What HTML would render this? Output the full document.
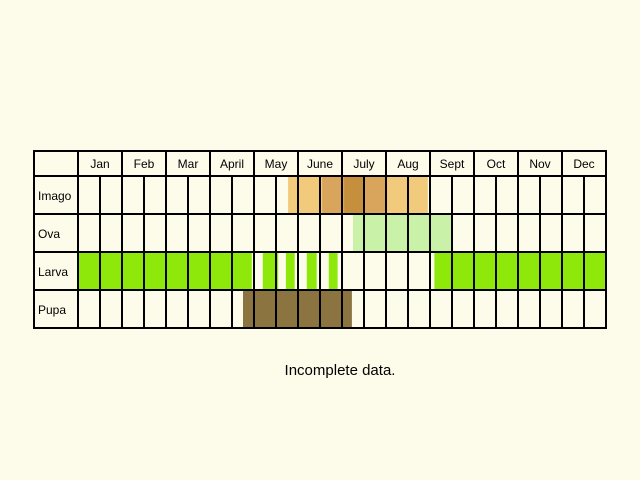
<!DOCTYPE html>
<html><head><meta charset="utf-8"><style>
body{margin:0;background:#fdfbe9;}
svg{display:block;font-family:"Liberation Sans",sans-serif;}
</style></head><body>
<svg id="c" width="640" height="480">
<rect width="640" height="480" fill="#fdfbe9"/>
<g id="marks"></g><g id="grid"></g>
<text x="340" y="375" font-size="15" text-anchor="middle" fill="#000">Incomplete data.</text>
</svg>
<script>
const months=["Jan","Feb","Mar","April","May","June","July","Aug","Sept","Oct","Nov","Dec"];
const stages=["Imago","Ova","Larva","Pupa"];
// spans in half-month units [stageIndex, start, end, color]
const imagoSpans=[[0,9.55,15.9,"#f2ca7c"],[0,11.1,14.05,"#d9a55c"],[0,12.1,12.95,"#c68f3e"]];
const ovaSpans=[[1,12.5,16.95,"#c9f1a8"]];
const larvaSpans=[[2,0,7.9,"#8ee80a"],[2,8.4,9.1,"#8ee80a"],[2,9.45,9.85,"#8ee80a"],[2,10.4,10.85,"#8ee80a"],[2,11.4,11.8,"#8ee80a"],[2,16.2,24,"#8ee80a"]];
const pupaSpans=[[3,7.5,12.45,"#8c7441"]];
const X0=78,CW=22,LX=34,TOP=151,HH=25,RH=38;
const xs=h=>X0+h*CW, ys=r=>TOP+HH+r*RH;
const NS="http://www.w3.org/2000/svg";
const mk=document.getElementById('marks'), gr=document.getElementById('grid');
function el(t,a,p){const e=document.createElementNS(NS,t);for(const k in a)e.setAttribute(k,a[k]);p.appendChild(e);return e;}
[imagoSpans,ovaSpans,larvaSpans,pupaSpans].forEach(arr=>arr.forEach(s=>{
 const r=el('rect',{x:xs(s[1]),y:ys(s[0]),width:xs(s[2])-xs(s[1]),height:RH,fill:s[3]},mk);
 
 
}));
const bottom=ys(stages.length), right=xs(24);
el('rect',{x:LX,y:TOP,width:right-LX,height:bottom-TOP,fill:'none',stroke:'#000','stroke-width':2},gr);
el('line',{x1:LX,y1:TOP+HH,x2:right,y2:TOP+HH,stroke:'#000','stroke-width':2},gr);
for(let r=1;r<stages.length;r++)el('line',{x1:LX,y1:ys(r),x2:right,y2:ys(r),stroke:'#000','stroke-width':2},gr);
for(let h=0;h<24;h++){
 el('line',{x1:xs(h),y1:h%2==0?TOP:TOP+HH,x2:xs(h),y2:bottom,stroke:'#000','stroke-width':2},gr);
}
months.forEach((m,i)=>{
 const t=el('text',{x:xs(i*2+1),y:TOP+17,'font-size':12,'text-anchor':'middle'},gr);
 t.textContent=m;
 
 
});
stages.forEach((s,i)=>{
 const t=el('text',{x:LX+4,y:ys(i)+RH/2+5,'font-size':12},gr);
 t.textContent=s;
 
 
});
</script>
</body></html>
